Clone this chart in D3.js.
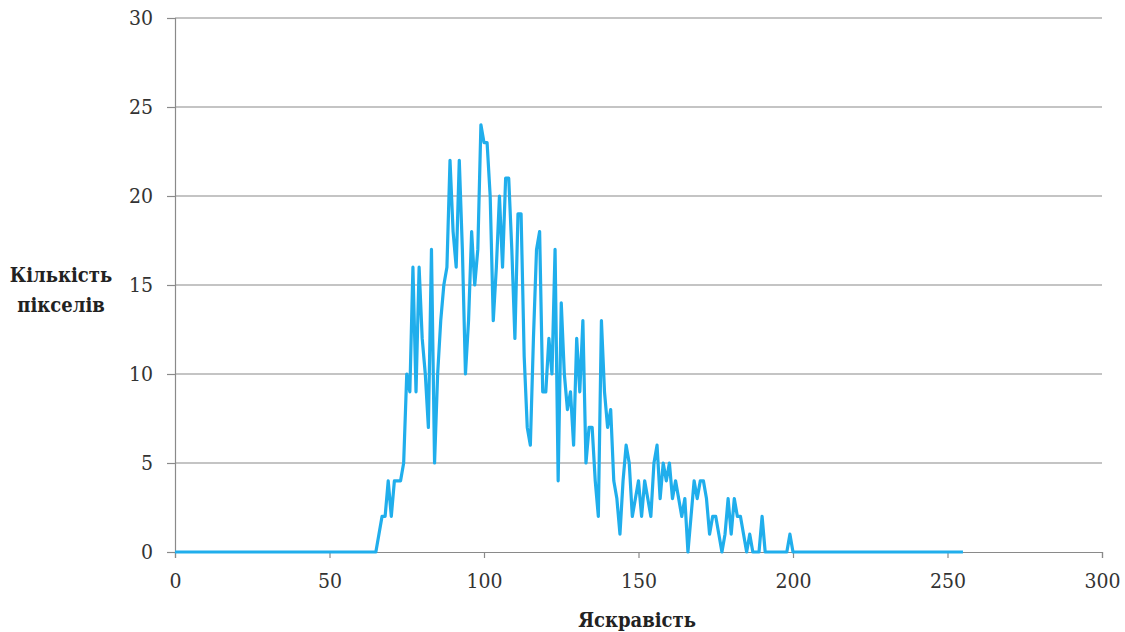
<!DOCTYPE html>
<html><head><meta charset="utf-8">
<script src="https://cdn.jsdelivr.net/npm/d3@7"></script>
<style>body{margin:0;background:#fff;} svg{display:block;}</style>
</head><body>
<svg id="c" width="1125" height="632"></svg>
<script>
// brightness values 0..255 and pixel counts
const startNonZero = 66;
const counts = [1,2,2,4,2,4,4,4,5,10,9,16,9,16,12,10,7,17,5,10,13,15,16,22,18,16,22,17,10,13,18,15,17,24,23,23,20,13,16,20,16,21,21,17,12,19,19,11,7,6,12,17,18,9,9,12,10,17,4,14,10,8,9,6,12,9,13,5,7,7,4,2,13,9,7,8,4,3,1,4,6,5,2,3,4,2,4,3,2,5,6,3,5,4,5,3,4,3,2,3,0,2,4,3,4,4,3,1,2,2,1,0,1,3,1,3,2,2,1,0,1,0,0,0,2,0,0,0,0,0,0,0,0,1];
const brightness = d3.range(0, 256);
const values = brightness.map(b => (b >= startNonZero && b - startNonZero < counts.length) ? counts[b - startNonZero] : 0);
const xTicks = [0,50,100,150,200,250,300];
const yTicks = [0,5,10,15,20,25,30];
const xTitle = "Яскравість";
const yTitle = ["Кількість", "пікселів"];

const svg = d3.select("#c");
const x = d3.scaleLinear().domain([0,300]).range([175,1102]);
const y = d3.scaleLinear().domain([0,30]).range([552,18]);
const serif = '"DejaVu Serif Condensed","DejaVu Serif",serif';

// gridlines
svg.append("g").selectAll("line").data(yTicks.filter(d=>d>0)).join("line")
  .attr("x1", x(0)).attr("x2", x(300))
  .attr("y1", d=>y(d)).attr("y2", d=>y(d))
  .attr("stroke", "#8a8a8a").attr("stroke-width", 1.2);

// y axis
const ya = svg.append("g").attr("transform", `translate(${x(0)},0)`)
  .call(d3.axisLeft(y).tickValues(yTicks).tickSize(8).tickPadding(14));
ya.attr("font-family", serif).attr("font-size", 21);
ya.select(".domain").attr("stroke", "#8a8a8a").attr("stroke-width", 1.2);
ya.selectAll(".tick line").attr("stroke", "#8a8a8a").attr("stroke-width", 1.2);
ya.selectAll("text").attr("fill", "#333");

// x axis
const xa = svg.append("g").attr("transform", `translate(0,${y(0)})`)
  .call(d3.axisBottom(x).tickValues(xTicks).tickSize(6).tickPadding(15));
xa.attr("font-family", serif).attr("font-size", 21);
xa.select(".domain").attr("stroke", "#8a8a8a").attr("stroke-width", 1.2);
xa.selectAll(".tick line").attr("stroke", "#8a8a8a").attr("stroke-width", 1.2);
xa.selectAll("text").attr("fill", "#333");

// line
const line = d3.line().x((d,i)=>x(brightness[i])).y(d=>y(d));
svg.append("path").datum(values)
  .attr("d", line).attr("fill", "none")
  .attr("stroke", "#20aeec").attr("stroke-width", 3.2).attr("stroke-linejoin", "round");

// titles
svg.append("text").attr("x", 637).attr("y", 627).attr("text-anchor", "middle")
  .attr("font-family", serif).attr("font-weight", "bold").attr("font-size", 20).attr("fill", "#222")
  .text(xTitle);
svg.append("text").attr("x", 61).attr("y", 282).attr("text-anchor", "middle")
  .attr("font-family", serif).attr("font-weight", "bold").attr("font-size", 20).attr("fill", "#222")
  .selectAll("tspan").data(yTitle).join("tspan")
  .attr("x", 61).attr("dy", (d,i)=> i ? 30 : 0).text(d=>d);
</script>
</body></html>
